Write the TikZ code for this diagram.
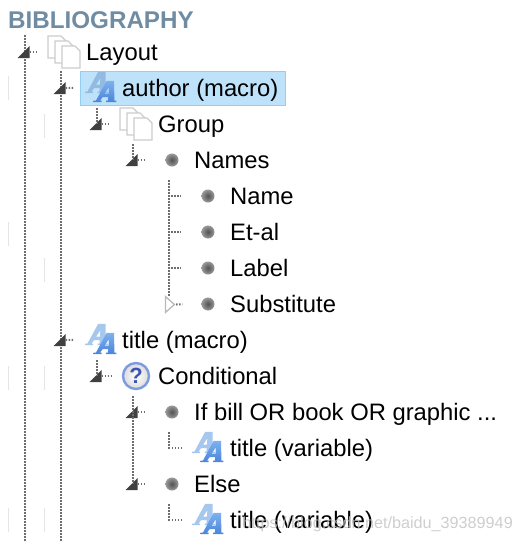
\documentclass[tikz,border=0pt]{standalone}
\usepackage{fontspec}
\setmainfont{Liberation Sans}
\usetikzlibrary{shapes.geometric}

\definecolor{headcol}{HTML}{6F8CA3}
\definecolor{dotcol}{HTML}{6E6E6E}
\definecolor{selfill}{HTML}{BFE2FB}
\definecolor{seledge}{HTML}{92CFF2}
\definecolor{backblue}{HTML}{A6C8EE}
\definecolor{backmuted}{HTML}{93BBE2}
\definecolor{fronttop}{HTML}{7DB2F0}
\definecolor{frontbot}{HTML}{4A84DA}
\definecolor{ringblue}{HTML}{7F9BE0}
\definecolor{askblue}{HTML}{3E55B4}

% one italic letter for the blue icon
\newcommand{\letterpath}{(-14,13) -- (-4,13) -- (-4,11) -- (-6,11) -- (-3,7) -- (4,7) -- (3.5,11) -- (1.5,11) -- (1.5,13) -- (14,13) -- (14,11) -- (11.5,11) -- (11,-13) -- (2,-13) -- (-11,11) -- (-14,11) -- cycle (-0.5,2.5) -- (4.3,2.5) -- (4.7,-5) -- cycle}
\newcommand{\sheetpath}{(-9,-11) -- (4,-11) -- (9,-6) -- (9,11) -- (-9,11) -- cycle}

\newcommand{\pagestack}[1]{
    \filldraw[sheet, shift={(#1.center)}, xshift=-7pt, yshift=5pt] \sheetpath;
    \filldraw[sheet, shift={(#1.center)}] \sheetpath;
    \filldraw[sheet, shift={(#1.center)}, xshift=7pt, yshift=-5pt] \sheetpath;
}
\newcommand{\lettersign}[2]{
    \fill[even odd rule, #2, shift={(#1.center)}, xshift=-4.5pt, yshift=5pt, scale=0.82] \letterpath;
    \shade[even odd rule, top color=fronttop, bottom color=frontbot, shift={(#1.center)}, xshift=4pt, yshift=-4pt, scale=0.82] \letterpath;
}

\tikzset{
    treeline/.style={draw=dotcol, line width=2pt, dash pattern=on 1.5pt off 1.5pt},
    label/.style={anchor=base west, inner sep=0pt, font=\fontsize{23.8}{26}\selectfont, text=black},
    opened/.style={minimum size=12pt, inner sep=0pt, path picture={
        \fill[black!75] (path picture bounding box.south west) -- (path picture bounding box.south east)
            -- (path picture bounding box.north east) -- cycle;}},
    closed/.style={isosceles triangle, isosceles triangle stretches, draw=black!28, line width=1.3pt,
        minimum height=9pt, minimum width=16pt, inner sep=0pt},
    bullet/.style={circle, minimum size=13pt, inner sep=0pt, inner color=black!68, outer color=black!40},
    iconbox/.style={minimum width=33pt, minimum height=31pt, inner sep=0pt},
    sheet/.style={draw=black!20, fill=white, line width=1.3pt},
    helpicon/.style={circle, draw=ringblue, line width=2.4pt, minimum size=26pt, inner sep=0pt,
        inner color=white, outer color=black!14, text=askblue, font=\fontsize{22}{22}\selectfont\bfseries},
    faintbar/.style={minimum width=0.7pt, minimum height=24pt, inner sep=0pt, fill=black!10},
}

\begin{document}
\begin{tikzpicture}[x=1pt, y=-1pt]
    \useasboundingbox (0,0) rectangle (526,542);

    \node[minimum width=205pt, minimum height=34pt, inner sep=0pt, fill=selfill, draw=seledge, line width=1pt] (sel) at (183,88) {};

    \node[anchor=base west, inner sep=0pt, text=headcol, font=\fontsize{24.2}{26}\selectfont\bfseries] (head) at (8,28) {BIBLIOGRAPHY};

    \node[faintbar] (f1) at (8,88) {};
    \node[faintbar] (f2) at (44,126) {};
    \node[faintbar] (f3) at (8,234) {};
    \node[faintbar] (f4) at (44,270) {};
    \node[faintbar] (f5) at (8,378) {};
    \node[faintbar] (f6) at (44,378) {};
    \node[faintbar] (f7) at (8,520) {};
    \node[faintbar] (f8) at (44,520) {};

    \coordinate (top0) at (24.5,35);
    \coordinate (bot0) at (24.5,542);
    \coordinate (top1) at (61,71);
    \coordinate (bot1) at (61,542);
    \coordinate (top2) at (97,108);
    \coordinate (top3) at (133,144);
    \coordinate (top4) at (169,180);
    \coordinate (top5) at (133,396);
    \coordinate (top6) at (97,360);
    \coordinate (top7) at (169,432);
    \coordinate (top8) at (169,504);

    % long verticals
    \draw[treeline] (top0) -- (bot0);
    \draw[treeline] (top1) -- (bot1);

    % toggles
    \node[opened] (tlayout) at (23.5,52) {};
    \node[opened] (tauthor) at (59.5,88) {};
    \node[opened] (tgroup) at (95.5,124) {};
    \node[opened] (tnames) at (131.5,160) {};
    \node[opened] (ttitle) at (59.5,340) {};
    \node[opened] (tcond) at (95.5,376) {};
    \node[opened] (tif) at (131.5,412) {};
    \node[opened] (telse) at (131.5,484) {};

    % icons
    \node[iconbox] (ilayout) at (64,52) {};
    \node[iconbox] (iauthor) at (101,87.5) {};
    \node[iconbox] (igroup) at (136,124) {};
    \node[bullet] (inames) at (172,160) {};
    \node[bullet] (iname) at (208,196) {};
    \node[bullet] (ietal) at (208,232) {};
    \node[bullet] (ilabel) at (208,268) {};
    \node[bullet] (isub) at (208,304) {};
    \node[iconbox] (ititle) at (101,339.5) {};
    \node[helpicon] (icond) at (136,376) {?};
    \node[bullet] (iif) at (172,412) {};
    \node[iconbox] (ivar) at (208,447.5) {};
    \node[bullet] (ielse) at (172,484) {};
    \node[iconbox] (ivartwo) at (208,519.5) {};

    \pagestack{ilayout}
    \pagestack{igroup}
    \lettersign{iauthor}{backmuted}
    \lettersign{ititle}{backblue}
    \lettersign{ivar}{backblue}
    \lettersign{ivartwo}{backblue}

    % labels
    \node[label] (layout) at (86,60) {Layout};
    \node[label] (author) at (122,96) {author (macro)};
    \node[label] (group) at (158,132) {Group};
    \node[label] (names) at (194,168) {Names};
    \node[label] (name) at (230,204) {Name};
    \node[label] (etal) at (230,240) {Et-al};
    \node[label] (lab) at (230,276) {Label};
    \node[label] (sub) at (230,312) {Substitute};
    \node[label] (title) at (122,348) {title (macro)};
    \node[label] (cond) at (158,384) {Conditional};
    \node[label] (ifbill) at (194,420) {If bill OR book OR graphic ...};
    \node[label] (var) at (230,456) {title (variable)};
    \node[label] (else) at (194,492) {Else};
    \node[label] (vartwo) at (230,528) {title (variable)};

    % short verticals
    \draw[treeline] (top2) -- (top2 |- tgroup);
    \draw[treeline] (top3) -- (top3 |- tnames);
    \draw[treeline] (top6) -- (top6 |- tcond);
    \draw[treeline] (top5) -- (top5 |- telse);

    % elbows
    \draw[treeline, shorten >=20pt] (top4) |- (iname);
    \draw[treeline, shorten >=20pt] (top4) |- (ietal);
    \draw[treeline, shorten >=20pt] (top4) |- (ilabel);
    \coordinate (endsub) at (169,297);
    \draw[treeline] (top4) -- (endsub);
    \draw[treeline, shorten >=8pt] (top7) |- (ivar);
    \draw[treeline, shorten >=8pt] (top8) |- (ivartwo);

    \node[closed] (tsub) at (169,304.5) {};

    % short stubs
    \draw[treeline, shorten >=10pt] (tlayout.east) -- (ilayout.west);
    \draw[treeline, shorten >=11pt] (tauthor.east) -- (iauthor.west);
    \draw[treeline, shorten >=10pt] (tgroup.east) -- (igroup.west);
    \draw[treeline, shorten >=19pt] (tnames.east) -- (inames.west);
    \draw[treeline, shorten >=19pt] (tsub.apex) -- (isub.west);
    \draw[treeline, shorten >=11pt] (ttitle.east) -- (ititle.west);
    \draw[treeline, shorten >=10pt] (tcond.east) -- (icond.west);
    \draw[treeline, shorten >=19pt] (tif.east) -- (iif.west);
    \draw[treeline, shorten >=19pt] (telse.east) -- (ielse.west);

    \node[anchor=base east, inner sep=0pt, text=black!24, opacity=0.8, font=\fontsize{16.2}{18}\selectfont] (mark) at (513,528) {https://blog.csdn.net/baidu\_39389949};
\end{tikzpicture}
\end{document}
